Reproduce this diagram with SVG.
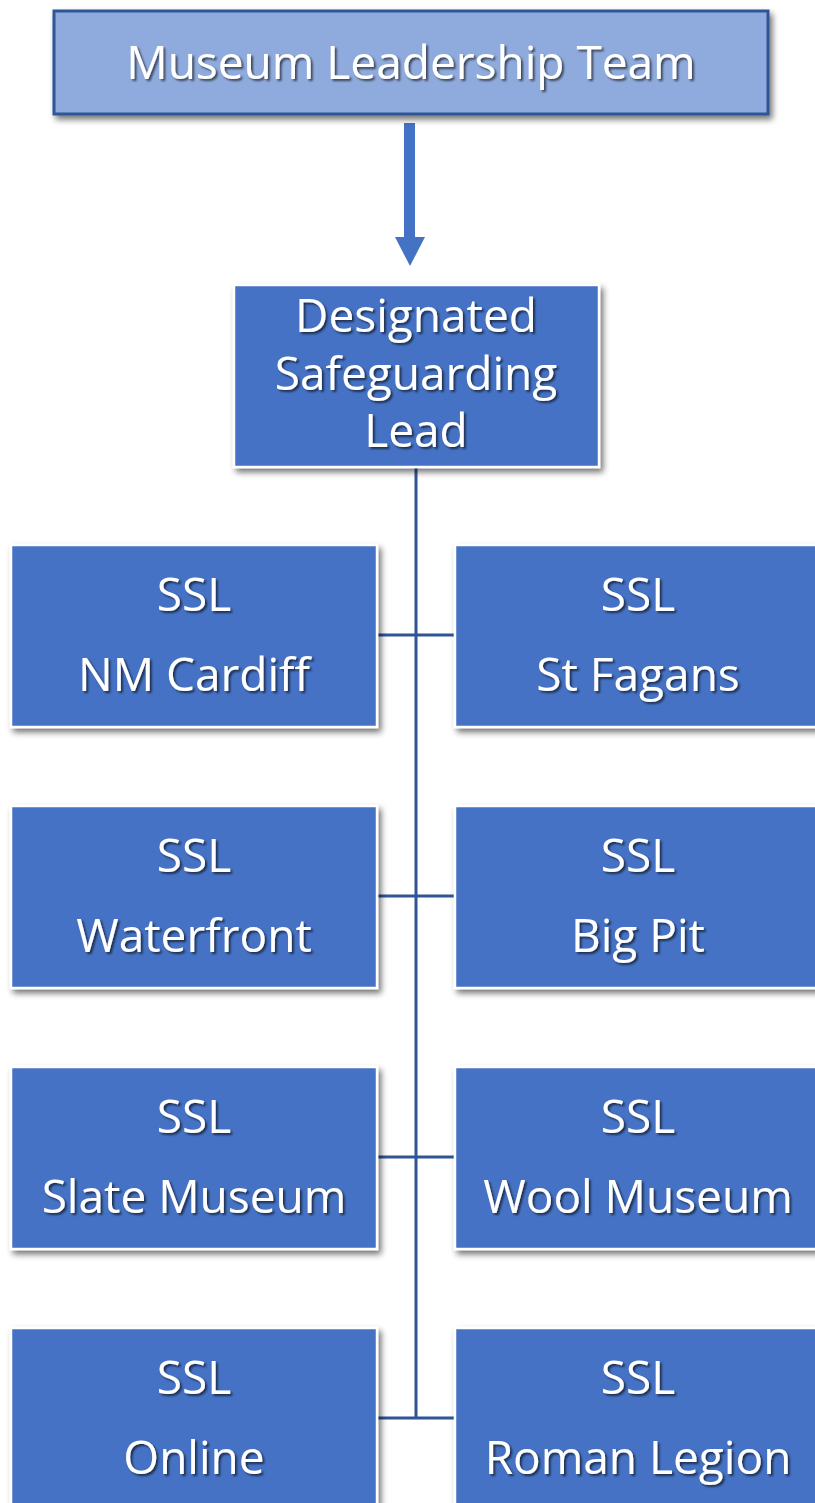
<svg xmlns="http://www.w3.org/2000/svg" width="815" height="1503" viewBox="0 0 815 1503">
<defs>
<filter id="bs" x="-10%" y="-10%" width="125%" height="130%">
<feGaussianBlur in="SourceAlpha" stdDeviation="3"/>
<feOffset dx="3" dy="4" result="b"/>
<feComponentTransfer><feFuncA type="linear" slope="0.55"/></feComponentTransfer>
<feMerge><feMergeNode/><feMergeNode in="SourceGraphic"/></feMerge>
</filter>
<filter id="ts" x="-10%" y="-20%" width="120%" height="150%">
<feGaussianBlur in="SourceAlpha" stdDeviation="1.2"/>
<feOffset dx="1.5" dy="2" result="b"/>
<feComponentTransfer><feFuncA type="linear" slope="0.6"/></feComponentTransfer>
<feMerge><feMergeNode/><feMergeNode in="SourceGraphic"/></feMerge>
</filter>
</defs>
<style>
.box{fill:#4472c4;stroke:#ffffff;stroke-width:2.5}
.top{fill:#8faadc;stroke:#2f5597;stroke-width:3}
.t{fill:#ffffff;font-family:"Open Sans","Noto Sans",sans-serif;font-size:46px;text-anchor:middle}
.ln{stroke:#2f5597;stroke-width:3;fill:none}
</style>
<rect width="815" height="1503" fill="#ffffff"/>
<g id="connectors">
<rect x="404" y="123" width="11" height="115" fill="#4472c4"/>
<polygon points="395,237 425,237 410,266" fill="#4472c4"/>
<line class="ln" x1="416" y1="466" x2="416" y2="1419"/>
<line class="ln" x1="378" y1="635" x2="454" y2="635"/>
<line class="ln" x1="378" y1="896" x2="454" y2="896"/>
<line class="ln" x1="378" y1="1157" x2="454" y2="1157"/>
<line class="ln" x1="378" y1="1418" x2="454" y2="1418"/>
</g>
<g id="museum-leadership-team">
<rect class="top" x="54" y="11" width="714" height="103" filter="url(#bs)"/>
<text class="t" x="411" y="79" filter="url(#ts)">Museum Leadership Team</text>
</g>
<g id="designated-safeguarding-lead">
<rect class="box" x="234" y="285" width="365" height="182" filter="url(#bs)"/>
<text class="t" x="416" y="332" filter="url(#ts)">Designated</text>
<text class="t" x="416" y="390" filter="url(#ts)">Safeguarding</text>
<text class="t" x="416" y="447" filter="url(#ts)">Lead</text>
</g>
<g id="ssl-nm-cardiff">
<rect class="box" x="11" y="545" width="366" height="182" filter="url(#bs)"/>
<text class="t" x="194" y="611" filter="url(#ts)">SSL</text>
<text class="t" x="194" y="691" filter="url(#ts)">NM Cardiff</text>
</g>
<g id="ssl-st-fagans">
<rect class="box" x="455" y="545" width="366" height="182" filter="url(#bs)"/>
<text class="t" x="638" y="611" filter="url(#ts)">SSL</text>
<text class="t" x="638" y="691" filter="url(#ts)">St Fagans</text>
</g>
<g id="ssl-waterfront">
<rect class="box" x="11" y="806" width="366" height="182" filter="url(#bs)"/>
<text class="t" x="194" y="872" filter="url(#ts)">SSL</text>
<text class="t" x="194" y="952" filter="url(#ts)">Waterfront</text>
</g>
<g id="ssl-big-pit">
<rect class="box" x="455" y="806" width="366" height="182" filter="url(#bs)"/>
<text class="t" x="638" y="872" filter="url(#ts)">SSL</text>
<text class="t" x="638" y="952" filter="url(#ts)">Big Pit</text>
</g>
<g id="ssl-slate-museum">
<rect class="box" x="11" y="1067" width="366" height="182" filter="url(#bs)"/>
<text class="t" x="194" y="1133" filter="url(#ts)">SSL</text>
<text class="t" x="194" y="1213" filter="url(#ts)">Slate Museum</text>
</g>
<g id="ssl-wool-museum">
<rect class="box" x="455" y="1067" width="366" height="182" filter="url(#bs)"/>
<text class="t" x="638" y="1133" filter="url(#ts)">SSL</text>
<text class="t" x="638" y="1213" filter="url(#ts)">Wool Museum</text>
</g>
<g id="ssl-online">
<rect class="box" x="11" y="1328" width="366" height="182" filter="url(#bs)"/>
<text class="t" x="194" y="1394" filter="url(#ts)">SSL</text>
<text class="t" x="194" y="1474" filter="url(#ts)">Online</text>
</g>
<g id="ssl-roman-legion">
<rect class="box" x="455" y="1328" width="366" height="182" filter="url(#bs)"/>
<text class="t" x="638" y="1394" filter="url(#ts)">SSL</text>
<text class="t" x="638" y="1474" filter="url(#ts)">Roman Legion</text>
</g>
</svg>
